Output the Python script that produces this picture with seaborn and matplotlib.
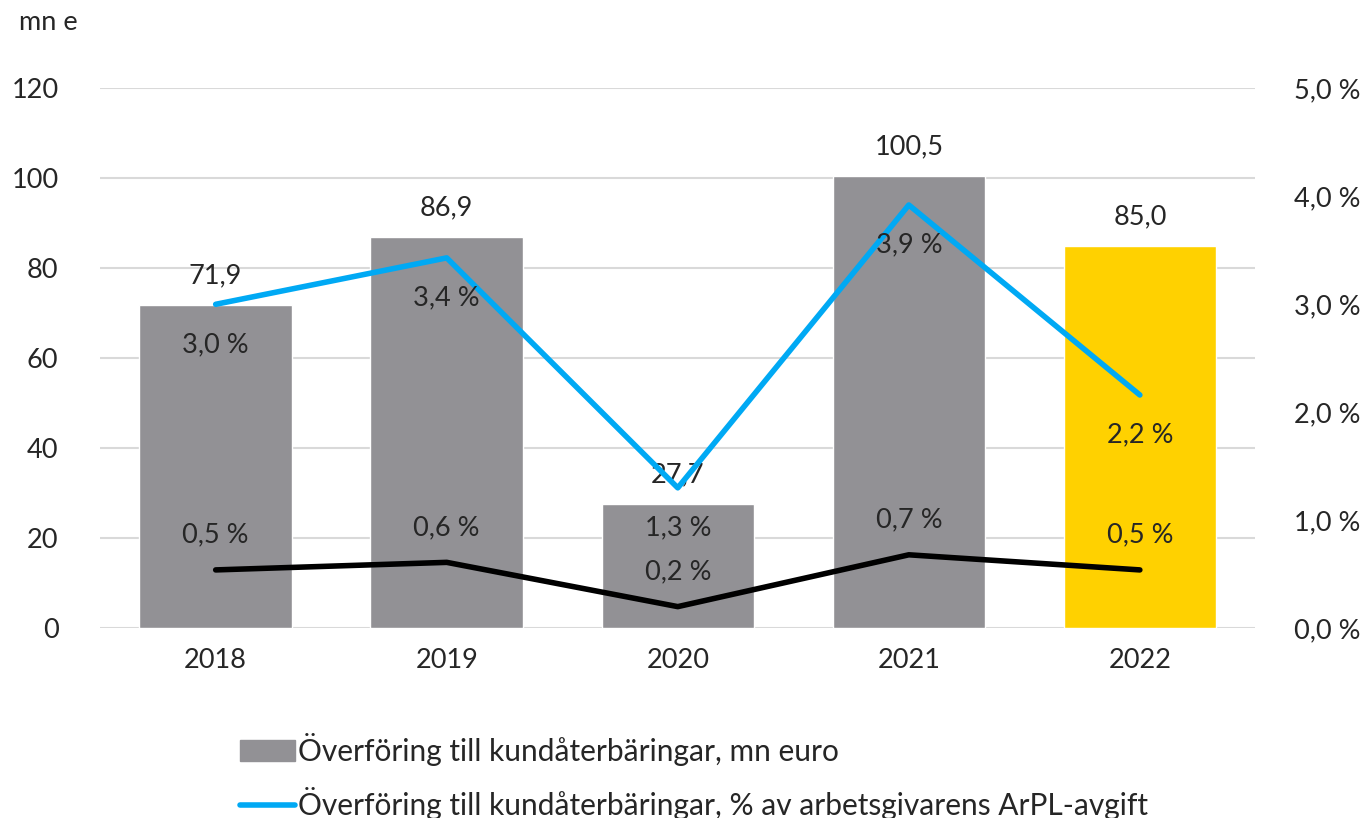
import seaborn as sns
import numpy as np
import pandas as pd
import matplotlib.pyplot as plt
from matplotlib.patches import Patch
from matplotlib.lines import Line2D

years = ['2018', '2019', '2020', '2021', '2022']
transfer_mn = [71.9, 86.9, 27.7, 100.5, 85.0]
pct_arpl = [3.0, 3.43, 1.3, 3.92, 2.16]
pct_other = [0.54, 0.61, 0.2, 0.68, 0.54]
pct_arpl_labels = [3.0, 3.4, 1.3, 3.9, 2.2]
pct_other_labels = [0.5, 0.6, 0.2, 0.7, 0.5]

bar_label = 'Överföring till kundåterbäringar, mn euro'
line_label = 'Överföring till kundåterbäringar, % av arbetsgivarens ArPL-avgift'

GRAY = '#929195'
YELLOW = '#FFD100'
BLUE = '#00A9F4'


def comma(v, suffix=''):
    return f'{v:.1f}'.replace('.', ',') + suffix


sns.set_style('white')
plt.rcParams['font.family'] = ['Lato', 'DejaVu Sans']
FS = 19.5

df = pd.DataFrame({'year': years, 'mn': transfer_mn})
pos = np.arange(len(years))

fig = plt.figure(figsize=(13.72, 8.18), dpi=100)
ax = fig.add_axes([0.073, 0.232, 0.842, 0.66])

sns.barplot(data=df, x='year', y='mn', hue='year', palette=[GRAY] * 4 + [YELLOW],
            width=0.66, legend=False, saturation=1, ax=ax, zorder=2)
ax.set_ylim(0, 120)
ax.set_yticks(range(0, 121, 20))
ax.set_xlim(-0.5, len(years) - 0.5)
ax.yaxis.grid(True, color='#D9D9D9', linewidth=1.5, zorder=0)
ax.set_axisbelow(True)
ax.set_xlabel('')
ax.set_ylabel('')
for s in ax.spines.values():
    s.set_visible(False)
ax.tick_params(axis='both', length=0, labelsize=FS, pad=14)
ax.tick_params(axis='y', pad=30)
ax.set_xticks(pos, years)

for x, v in zip(pos, transfer_mn):
    ax.annotate(comma(v), (x, v), xytext=(0, 21), textcoords='offset points',
                ha='center', va='center', fontsize=FS, zorder=5)

ax2 = ax.twinx()
sns.lineplot(x=pos, y=pct_arpl, color=BLUE, linewidth=4, ax=ax2, zorder=3)
sns.lineplot(x=pos, y=pct_other, color='black', linewidth=4, ax=ax2, zorder=3)
ax2.set_ylim(0, 5)
ax2.set_yticks(range(0, 6))
ax2.set_yticklabels([comma(t, ' %') for t in range(0, 6)])
ax2.tick_params(axis='y', length=0, labelsize=FS, pad=28)
for s in ax2.spines.values():
    s.set_visible(False)
ax2.grid(False)

for x, v, lab in zip(pos, pct_arpl, pct_arpl_labels):
    ax2.annotate(comma(lab, ' %'), (x, v), xytext=(0, -29), textcoords='offset points',
                 ha='center', va='center', fontsize=FS)
for x, v, lab in zip(pos, pct_other, pct_other_labels):
    ax2.annotate(comma(lab, ' %'), (x, v), xytext=(0, 25), textcoords='offset points',
                 ha='center', va='center', fontsize=FS)

fig.text(0.014, 0.972, 'mn e', fontsize=FS, va='center', ha='left')

handles = [Patch(color=GRAY), Line2D([0], [0], color=BLUE, linewidth=4)]
fig.legend(handles, [bar_label, line_label], loc='upper left',
           bbox_to_anchor=(0.175, 0.104), frameon=False, fontsize=21.5,
           handlelength=1.85, handletextpad=0.1, labelspacing=0.72,
           borderpad=0, borderaxespad=0)

fig.savefig('out.png', dpi=100)
